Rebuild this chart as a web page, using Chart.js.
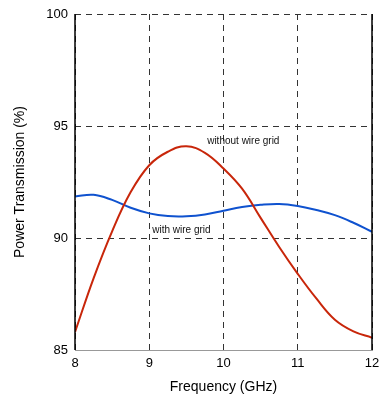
<!DOCTYPE html>
<html>
<head>
<meta charset="utf-8">
<script src="https://cdn.jsdelivr.net/npm/chart.js@4"></script>
<style>
  html, body { margin: 0; padding: 0; background: #fff; }
  #wrap { width: 380px; height: 402px; }
</style>
</head>
<body>
<div id="wrap"><canvas id="c"></canvas></div>
<script>
// 주파수 (GHz)
const freqs = [8.0, 8.25, 8.5, 8.75, 9.0, 9.25, 9.5, 9.75, 10.0, 10.25, 10.5, 10.75, 11.0, 11.25, 11.5, 11.75, 12.0];

// 투과율 (%)
const withoutGrid = [85.8, 88.2, 90.3, 92.05, 93.25, 93.85, 94.1, 93.8, 93.1, 92.2, 90.9, 89.6, 88.4, 87.3, 86.35, 85.83, 85.55];
const withGrid    = [91.85, 91.93, 91.7, 91.35, 91.1, 90.98, 90.97, 91.05, 91.22, 91.38, 91.48, 91.52, 91.43, 91.25, 91.02, 90.68, 90.28];

const xTicks = [8, 9, 10, 11, 12];
const yTicks = [85, 90, 95, 100];

// 곡선 라벨 (데이터 좌표)
const labelTexts = ['without wire grid', 'with wire grid'];
const labelX     = [9.78, 9.04];
const labelY     = [94.33, 90.33];

const RED  = '#c8260a';
const BLUE = '#0f52cf';
const FONT = "'Liberation Sans', Arial, sans-serif";

Chart.defaults.font.family = FONT;
Chart.defaults.color = '#000';

const toPts = (ys) => freqs.map((x, i) => ({ x, y: ys[i] }));

// 좌우 실선 테두리 + 곡선 라벨
const framePlugin = {
  id: 'frame',
  afterDraw(chart) {
    const { ctx, chartArea: a, scales } = chart;
    ctx.save();
    ctx.strokeStyle = '#000';
    ctx.lineWidth = 1.5;
    ctx.beginPath();
    ctx.moveTo(a.left, a.top);
    ctx.lineTo(a.left, a.bottom);
    ctx.moveTo(a.right, a.top);
    ctx.lineTo(a.right, a.bottom);
    ctx.stroke();

    ctx.fillStyle = '#111';
    ctx.font = `10px ${FONT}`;
    ctx.textBaseline = 'middle';
    ctx.textAlign = 'left';
    labelTexts.forEach((t, i) => {
      ctx.fillText(t, scales.x.getPixelForValue(labelX[i]), scales.y.getPixelForValue(labelY[i]));
    });
    ctx.restore();
  },
};

new Chart(document.getElementById('c'), {
  type: 'line',
  data: {
    datasets: [
      {
        data: toPts(withoutGrid),
        borderColor: RED,
        borderWidth: 2,
        pointRadius: 0,
        tension: 0.4,
      },
      {
        data: toPts(withGrid),
        borderColor: BLUE,
        borderWidth: 2,
        pointRadius: 0,
        tension: 0.4,
      },
    ],
  },
  plugins: [framePlugin],
  options: {
    responsive: true,
    maintainAspectRatio: false,
    animation: false,
    layout: { padding: { top: 14, right: 8, left: 0, bottom: 0 } },
    plugins: {
      legend:  { display: false },
      tooltip: { enabled: false },
    },
    scales: {
      x: {
        type: 'linear',
        min: 8,
        max: 12,
        afterBuildTicks: (s) => { s.ticks = xTicks.map((v) => ({ value: v })); },
        afterFit: (s) => { s.height = 52; s.paddingLeft = 0; s.paddingRight = 0; },
        border: { display: true, color: '#999', width: 1, dash: [6, 5] },
        grid: { color: '#333', lineWidth: 1, drawTicks: false },
        ticks: { padding: 6, font: { size: 13 }, color: '#000' },
        title: { display: true, text: 'Frequency (GHz)', font: { size: 14 }, color: '#000', padding: { top: 1, bottom: 6 } },
      },
      y: {
        min: 85,
        max: 100,
        afterBuildTicks: (s) => { s.ticks = yTicks.map((v) => ({ value: v })); },
        afterFit: (s) => { s.width = 75; s.paddingTop = 0; s.paddingBottom = 0; },
        border: { display: false, dash: [6, 5] },
        grid: { color: '#333', lineWidth: 1, drawTicks: false },
        ticks: { padding: 7, font: { size: 13 }, color: '#000' },
        title: { display: true, text: 'Power Transmission (%)', font: { size: 14 }, color: '#000', padding: { top: 12, bottom: 4 } },
      },
    },
  },
});
</script>
</body>
</html>
